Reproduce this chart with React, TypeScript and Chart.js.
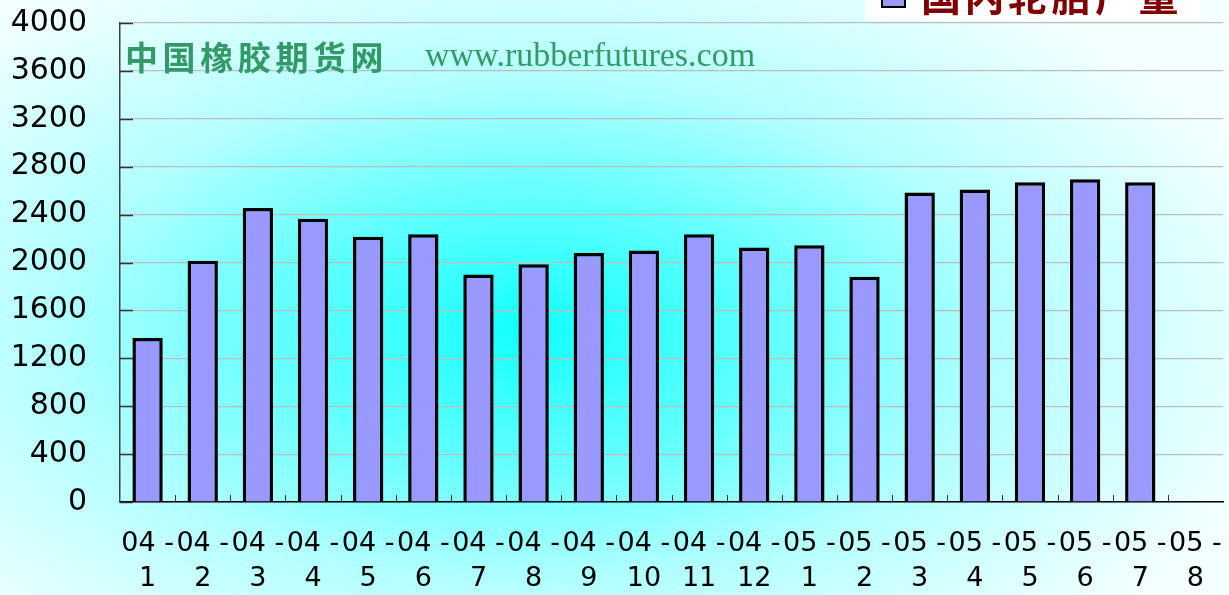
import React, { useEffect, useRef } from "react";
import { Chart, registerables } from "chart.js";

Chart.register(...registerables);

const yearLabels = ["04 -", "04 -", "04 -", "04 -", "04 -", "04 -", "04 -", "04 -", "04 -", "04 -", "04 -", "04 -", "05 -", "05 -", "05 -", "05 -", "05 -", "05 -", "05 -", "05 -"];
const monthLabels = ["1", "2", "3", "4", "5", "6", "7", "8", "9", "10", "11", "12", "1", "2", "3", "4", "5", "6", "7", "8"];
const tireOutput = [1370, 2015, 2455, 2365, 2215, 2235, 1900, 1985, 2080, 2100, 2235, 2125, 2145, 1880, 2585, 2610, 2670, 2695, 2670, null];
const seriesName = "国内轮胎产量";
const watermarkCn = "中国橡胶期货网";
const watermarkUrl = "www.rubberfutures.com";
const yMin = 0;
const yMax = 4000;
const yGridStep = 200;
const yLabelStep = 400;

const bgPlugin = {
  id: "bgGradient",
  beforeDraw(chart: any) {
    const ctx = chart.ctx;
    const w = chart.width;
    const h = chart.height;
    ctx.save();
    ctx.fillStyle = "#f4ffff";
    ctx.fillRect(0, 0, w, h);
    const cx = 530, cy = 330, rx = 780, ry = 420;
    ctx.translate(cx, cy);
    ctx.scale(1, ry / rx);
    const g = ctx.createRadialGradient(0, 0, 0, 0, 0, rx);
    g.addColorStop(0, "#12ffff");
    g.addColorStop(0.3, "#5effff");
    g.addColorStop(0.6, "#b2ffff");
    g.addColorStop(0.85, "#dcffff");
    g.addColorStop(1, "#f4ffff");
    ctx.fillStyle = g;
    ctx.fillRect(-cx, -cy * rx / ry, w, h * rx / ry);
    ctx.restore();
  },
};

const decoPlugin = {
  id: "deco",
  afterDraw(chart: any) {
    const ctx = chart.ctx;
    const area = chart.chartArea;
    const ys = chart.scales.y;
    const xs = chart.scales.x;
    ctx.save();
    // y tick marks (inside)
    ctx.strokeStyle = "#333333";
    ctx.lineWidth = 1.5;
    for (let v = yMin; v <= yMax; v += yLabelStep) {
      const py = Math.round(ys.getPixelForValue(v)) + 0.5;
      ctx.beginPath();
      ctx.moveTo(area.left, py);
      ctx.lineTo(area.left + 13, py);
      ctx.stroke();
    }
    // x tick marks between categories
    const n = xs.getLabels().length;
    const step = (area.right - area.left) / n;
    ctx.strokeStyle = "#333333";
    ctx.lineWidth = 1;
    for (let i = 1; i < n; i++) {
      const px = Math.round(area.left + i * step) + 0.5;
      ctx.beginPath();
      ctx.moveTo(px, area.bottom);
      ctx.lineTo(px, area.bottom - 7);
      ctx.stroke();
    }
    // watermark
    ctx.fillStyle = "#339966";
    ctx.textBaseline = "middle";
    ctx.textAlign = "left";
    ctx.font = "bold 33px 'Noto Sans CJK SC'";
    Array.from(watermarkCn).forEach((c, i) => {
      ctx.fillText(c, 125 + i * 37.6, 57);
    });
    ctx.font = "34px 'Liberation Serif'";
    ctx.fillText(watermarkUrl, 425, 57);

    // legend (clipped at top)
    ctx.fillStyle = "#ffffff";
    ctx.fillRect(865, 0, 335, 21);
    ctx.fillStyle = "#9999ff";
    ctx.fillRect(882, -17, 23, 24);
    ctx.strokeStyle = "#000000";
    ctx.lineWidth = 2;
    ctx.strokeRect(882, -17, 23, 24);
    ctx.fillStyle = "#800000";
    ctx.font = "bold 40px 'Noto Sans CJK SC'";
    ctx.textBaseline = "ideographic";
    Array.from(seriesName).forEach((c, i) => {
      ctx.fillText(c, 921 + i * 43.5, 16);
    });
    ctx.restore();
  },
};

export default function App() {
  const ref = useRef<HTMLCanvasElement | null>(null);
  useEffect(() => {
    document.body.style.margin = "0";
    const labels = yearLabels.map((t, i) => [t, monthLabels[i]]);
    const chart = new Chart(ref.current as HTMLCanvasElement, {
      type: "bar",
      data: {
        labels,
        datasets: [
          {
            label: seriesName,
            data: tireOutput as any,
            backgroundColor: "#9999ff",
            borderColor: "#000000",
            borderWidth: 3.5,
            barPercentage: 0.55,
            categoryPercentage: 1,
          },
        ],
      },
      options: {
        animation: false,
        responsive: false,
        maintainAspectRatio: false,
        layout: { padding: { top: 23, right: 6, left: 0, bottom: 0 } },
        plugins: {
          legend: { display: false },
          tooltip: { enabled: false },
        },
        scales: {
          x: {
            grid: { display: false, drawTicks: false },
            border: { display: true, color: "#000000", width: 1.5 },
            ticks: {
              autoSkip: false,
              maxRotation: 0,
              minRotation: 0,
              padding: 24,
              color: "#000000",
              font: { family: "'DejaVu Sans'", size: 27, lineHeight: 1.3 },
            },
            afterFit(scale: any) {
              scale.height = 93;
              scale.paddingLeft = 0;
              scale.paddingRight = 0;
            },
          },
          y: {
            min: yMin,
            max: yMax,
            grid: { color: "#bdbdbd", lineWidth: 1.2, drawTicks: false },
            border: { display: true, color: "#404040", width: 1.5 },
            ticks: {
              stepSize: yGridStep,
              padding: 33,
              color: "#000000",
              font: { family: "'DejaVu Sans'", size: 30 },
              callback: (v: any) => (Number(v) % yLabelStep === 0 ? String(v) : ""),
            },
            afterFit(scale: any) {
              scale.width = 120;
              scale.paddingTop = 0;
              scale.paddingBottom = 0;
            },
          },
        },
      },
      plugins: [bgPlugin, decoPlugin],
    });
    return () => chart.destroy();
  }, []);
  return (
    <div style={{ position: "fixed", left: 0, top: 0, width: 1229, height: 595 }}>
      <canvas ref={ref} width={1229} height={595} style={{ display: "block" }} />
    </div>
  );
}
